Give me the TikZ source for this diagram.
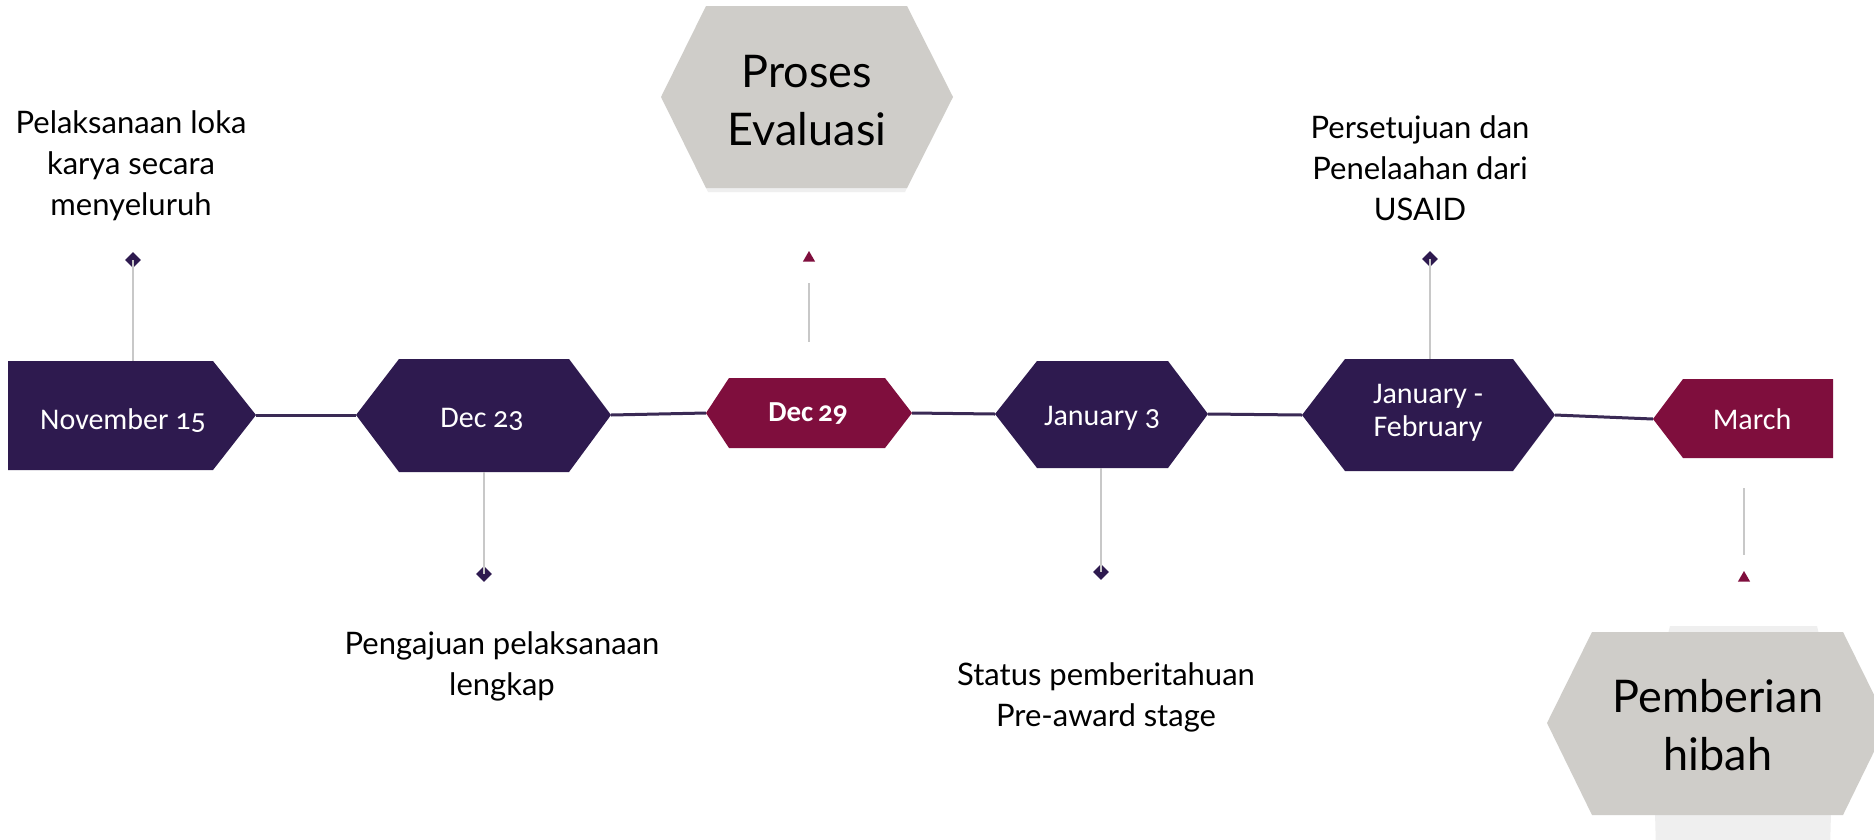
\documentclass[tikz,border=0pt]{standalone}
\usepackage{fontspec}
\setmainfont{Lato}
\newfontfamily\datefont[Numbers=OldStyle]{Carlito}
\usetikzlibrary{shapes.geometric}
\definecolor{dpurple}{HTML}{2E1A4F}
\definecolor{maroonc}{HTML}{7F0E3D}
\definecolor{hexgray}{HTML}{CFCDC9}
\definecolor{stemgray}{HTML}{C8C8C8}
\definecolor{linepurple}{HTML}{3A2A55}
\definecolor{shadowgray}{HTML}{EFEFEF}
\begin{document}
\begin{tikzpicture}[x=1pt,y=-1pt,
  conn/.style={draw=linepurple, line width=3pt},
  stem/.style={draw=stemgray, line width=2pt},
  dmd/.style={diamond, fill=dpurple, inner sep=0pt, minimum size=16pt},
  tri/.style={regular polygon, regular polygon sides=3, fill=maroonc, inner sep=0pt, minimum size=14pt},
  datelbl/.style={text=white, font=\datefont\fontsize{30}{33}\selectfont, align=center, inner sep=0pt},
  lbl/.style={text=black, font=\fontsize{31}{41}\selectfont, align=center, inner sep=0pt, anchor=base},
  biglbl/.style={text=black, font=\fontsize{45}{58}\selectfont, align=center, inner sep=0pt, anchor=base}]
\useasboundingbox (0,0) rectangle (1874,839);
\fill[white] (0,0) rectangle (1874,839);

% connector end coordinates
\coordinate (novR) at (256,415);
\coordinate (d23L) at (356,415);
\coordinate (d23R) at (611,415);
\coordinate (d29L) at (706,413);
\coordinate (d29R) at (912,413);
\coordinate (j3L) at (995,414);
\coordinate (j3R) at (1208,414);
\coordinate (jfL) at (1302,415);
\coordinate (jfR) at (1555,415);
\coordinate (mrL) at (1653,419);

\draw[conn] (novR) -- (d23L);
\draw[conn] (d23R) -- (d29L);
\draw[conn] (d29R) -- (j3L);
\draw[conn] (j3R) -- (jfL);
\draw[conn] (jfR) -- (mrL);

% date shapes
\fill[dpurple] (8,361) -- (213,361) -- (novR) -- (213,470) -- (8,470) -- cycle;
\fill[dpurple] (d23L) -- (399,359) -- (569,359) -- (d23R) -- (569,472) -- (399,472) -- cycle;
\fill[maroonc] (d29L) -- (729,378) -- (885,378) -- (d29R) -- (885,448) -- (729,448) -- cycle;
\fill[dpurple] (j3L) -- (1037,361) -- (1168,361) -- (j3R) -- (1168,468) -- (1037,468) -- cycle;
\fill[dpurple] (jfL) -- (1345,359) -- (1513,359) -- (jfR) -- (1513,471) -- (1345,471) -- cycle;
\fill[maroonc] (mrL) -- (1683,379) -- (1833,379) -- (1833,458) -- (1683,458) -- cycle;

\node[datelbl] (nov) at (123,421) {November 15};
\node[datelbl] (dec23) at (482,419) {Dec 23};
\node[datelbl, font=\datefont\bfseries\fontsize{29}{32}\selectfont] (dec29) at (808,414) {Dec\,29};
\node[datelbl] (jan3) at (1102,418) {January 3};
\node[datelbl] (janfeb) at (1428,413) {January -\\February};
\node[datelbl] (march) at (1752,419) {March};

% stems and markers
\coordinate (novT) at (133,361);
\node[dmd] (m1) at (133,260) {};
\draw[stem] (m1.center) -- (novT);

\coordinate (d23B) at (484,472);
\node[dmd] (m2) at (484,574) {};
\draw[stem] (d23B) -- (m2.center);

\coordinate (s3a) at (809,283);
\coordinate (s3b) at (809,342);
\draw[stem] (s3a) -- (s3b);
\node[tri] (m3) at (809,258) {};

\coordinate (j3B) at (1101,468);
\node[dmd] (m4) at (1101,572) {};
\draw[stem] (j3B) -- (m4.center);

\coordinate (jfT) at (1430,359);
\node[dmd] (m5) at (1430,259) {};
\draw[stem] (m5.center) -- (jfT);

\coordinate (s6a) at (1744,488);
\coordinate (s6b) at (1744,555);
\draw[stem] (s6a) -- (s6b);
\node[tri] (m6) at (1744,578) {};

% gray hexagons
\fill[shadowgray] (664,100) -- (709,9) -- (904,9) -- (950,100) -- (905,192) -- (708,192) -- cycle;
\fill[hexgray] (661,97) -- (706,6) -- (907,6) -- (953,97) -- (907,188) -- (706,188) -- cycle;
\node[biglbl] (proses) at (807,145) {Proses\\Evaluasi};

\fill[shadowgray] (1670,626) -- (1817,626) -- (1834,700) -- (1830,850) -- (1656,850) -- (1652,700) -- cycle;
\fill[hexgray] (1547,723) -- (1592,632) -- (1843,632) -- (1888,723) -- (1843,815) -- (1592,815) -- cycle;
\node[biglbl] (hibah) at (1718,770) {Pemberian\\hibah};

% labels
\node[lbl] (t1) at (131,215) {Pelaksanaan loka\\karya secara\\menyeluruh};
\node[lbl] (t2) at (502,695) {Pengajuan pelaksanaan\\lengkap};
\node[lbl] (t3) at (1106,726) {Status pemberitahuan\\Pre-award stage};
\node[lbl] (t4) at (1420,220) {Persetujuan dan\\Penelaahan dari\\USAID};
\end{tikzpicture}
\end{document}
